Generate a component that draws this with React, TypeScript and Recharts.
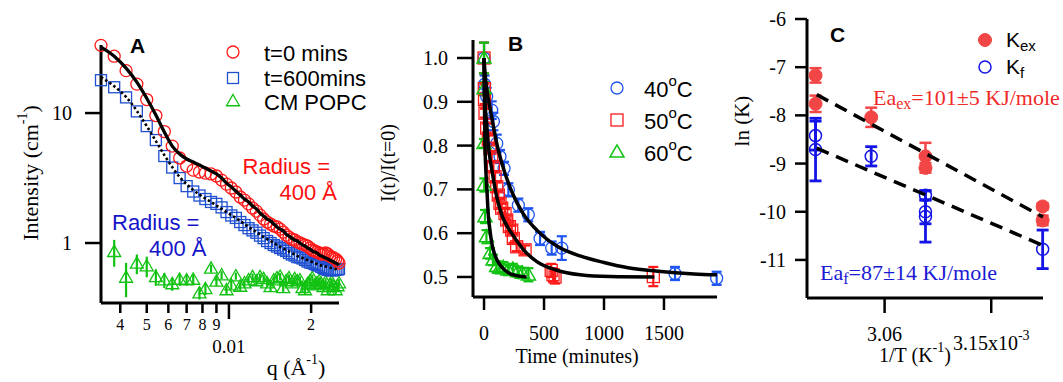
import React from 'react';
import { ScatterChart, Scatter, XAxis, YAxis, ErrorBar } from 'recharts';

const W = 1063;
const H = 382;
const SERIF = '"Liberation Serif", "Times New Roman", serif';
const SANS = '"Liberation Sans", Arial, sans-serif';

// ---------------- Panel A : SANS intensity vs q ----------------
const qGrid = [0.0034, 0.0038, 0.0042, 0.0046, 0.005, 0.0054, 0.0058, 0.0062, 0.0066, 0.007, 0.0074, 0.0078, 0.0082, 0.0086, 0.009, 0.0094, 0.0098, 0.0102, 0.0106, 0.011, 0.0114, 0.0118, 0.0122, 0.0126, 0.013, 0.0134, 0.0138, 0.0142, 0.0146, 0.015, 0.0154, 0.0158, 0.0162, 0.0166, 0.017, 0.0174, 0.0178, 0.0182, 0.0186, 0.019, 0.0194, 0.0198, 0.0202, 0.0206, 0.021, 0.0214, 0.0218, 0.0222, 0.0226, 0.023, 0.0234, 0.0238, 0.0242, 0.0246, 0.025, 0.0253];
const redI = [33.2, 27.4, 21.2, 16.7, 12.7, 9.57, 7.21, 5.57, 4.51, 3.91, 3.64, 3.52, 3.45, 3.4, 3.28, 3.05, 2.84, 2.65, 2.47, 2.26, 2.14, 2.0, 1.86, 1.76, 1.64, 1.53, 1.45, 1.4, 1.35, 1.33, 1.28, 1.215, 1.15, 1.11, 1.07, 1.055, 1.02, 1.0, 0.982, 0.965, 0.948, 0.915, 0.884, 0.868, 0.853, 0.838, 0.823, 0.823, 0.838, 0.823, 0.794, 0.78, 0.767, 0.753, 0.727, 0.702];
const redFit = [32.2, 27.4, 22.2, 17.3, 13.0, 9.65, 7.14, 5.57, 4.84, 4.43, 4.2, 3.98, 3.78, 3.58, 3.4, 3.16, 2.89, 2.7, 2.51, 2.34, 2.18, 2.07, 1.93, 1.83, 1.7, 1.61, 1.53, 1.48, 1.4, 1.33, 1.28, 1.24, 1.17, 1.13, 1.09, 1.055, 1.036, 1.0, 0.965, 0.948, 0.915, 0.899, 0.868, 0.853, 0.838, 0.809, 0.794, 0.78, 0.767, 0.753, 0.74, 0.727, 0.714, 0.702, 0.689, 0.677];
const blueI = [17.9, 15.8, 13.2, 10.3, 7.94, 6.2, 4.67, 3.81, 3.16, 2.74, 2.49, 2.32, 2.18, 2.07, 2.0, 1.88, 1.73, 1.63, 1.56, 1.45, 1.375, 1.3, 1.25, 1.2, 1.14, 1.09, 1.036, 1.0, 0.965, 0.94, 0.915, 0.891, 0.868, 0.838, 0.816, 0.801, 0.78, 0.774, 0.76, 0.74, 0.721, 0.708, 0.702, 0.689, 0.677, 0.671, 0.654, 0.642, 0.631, 0.62, 0.62, 0.614, 0.62, 0.625, 0.625, 0.631];
const blueFit = [18.9, 16.1, 13.3, 10.4, 7.94, 6.09, 4.75, 3.84, 3.22, 2.84, 2.56, 2.36, 2.2, 2.07, 1.94, 1.83, 1.73, 1.64, 1.56, 1.48, 1.4, 1.33, 1.27, 1.215, 1.16, 1.11, 1.07, 1.036, 1.0, 0.965, 0.932, 0.907, 0.884, 0.86, 0.838, 0.816, 0.794, 0.78, 0.767, 0.753, 0.74, 0.727, 0.714, 0.702, 0.689, 0.677, 0.671, 0.665, 0.66, 0.654, 0.648, 0.642, 0.637, 0.631, 0.631, 0.631];
// CM POPC starts at the second q value
const greenI = [0.857, 0.543, 0.696, 0.665, 0.548, 0.519, 0.484, 0.524, 0.519, 0.524, 0.412, 0.443, 0.637, 0.506, 0.567, 0.435, 0.475, 0.557, 0.463, 0.492, 0.519, 0.548, 0.51, 0.548, 0.529, 0.492, 0.459, 0.519, 0.538, 0.552, 0.451, 0.51, 0.538, 0.492, 0.529, 0.51, 0.519, 0.451, 0.435, 0.484, 0.51, 0.538, 0.475, 0.492, 0.51, 0.484, 0.459, 0.501, 0.435, 0.475, 0.501, 0.459, 0.435, 0.467, 0.492];
const greenErr = [0.2, 0.16, 0.12, 0.12, 0.08, 0.068, 0.055, 0.055, 0.05, 0.05, 0.045, 0.045, 0.045, 0.04, 0.04, 0.035, 0.035, 0.035, 0.035, 0.035, 0.035, 0.035, 0.035, 0.035, 0.035, 0.035, 0.035, 0.035, 0.035, 0.035, 0.035, 0.035, 0.035, 0.035, 0.035, 0.035, 0.035, 0.035, 0.035, 0.035, 0.035, 0.035, 0.035, 0.035, 0.035, 0.035, 0.035, 0.035, 0.035, 0.035, 0.035, 0.035, 0.035, 0.035, 0.035];
const aXTicks = [0.004, 0.005, 0.006, 0.007, 0.008, 0.009, 0.01, 0.02];
const aXTickLabels = ['4', '5', '6', '7', '8', '9', '0.01', '2'];
const aXTickMajor = [false, false, false, false, false, false, true, false];
const aYTicks = [1, 10];
const aYTickLabels = ['1', '10'];

// ---------------- Panel B : normalised intensity vs time ----------------
const b40T = [0, 5, 22, 64, 78, 106, 133, 167, 203, 286, 369, 467, 564, 648, 1592, 1939];
const b40V = [1.0, 0.94, 0.912, 0.881, 0.855, 0.805, 0.775, 0.748, 0.699, 0.664, 0.642, 0.588, 0.566, 0.566, 0.508, 0.497];
const b40E = [0.035, 0.02, 0.02, 0.02, 0.02, 0.02, 0.015, 0.015, 0.015, 0.015, 0.015, 0.015, 0.015, 0.027, 0.015, 0.015];
const b50T = [0, 2, 4, 8, 22, 36, 50, 64, 78, 92, 106, 119, 133, 147, 175, 189, 211, 231, 244, 272, 342, 560, 575, 592, 1411];
const b50V = [1.0, 0.93, 0.905, 0.874, 0.84, 0.813, 0.794, 0.775, 0.752, 0.729, 0.706, 0.687, 0.668, 0.657, 0.645, 0.63, 0.615, 0.607, 0.588, 0.569, 0.562, 0.515, 0.505, 0.5, 0.501];
const b50E = [0.035, 0.01, 0.01, 0.01, 0.01, 0.01, 0.01, 0.01, 0.01, 0.01, 0.01, 0.01, 0.01, 0.01, 0.01, 0.01, 0.01, 0.01, 0.01, 0.01, 0.01, 0.015, 0.015, 0.015, 0.022];
const b60T = [0, 0, 0, 2, 8, 20, 50, 75, 105, 130, 160, 200, 240, 280, 320, 370];
const b60V = [1.0, 0.93, 0.805, 0.71, 0.638, 0.592, 0.554, 0.539, 0.524, 0.52, 0.522, 0.516, 0.518, 0.512, 0.509, 0.505];
const b60E = [0.035, 0.015, 0.01, 0.015, 0.015, 0.015, 0.012, 0.012, 0.012, 0.012, 0.012, 0.012, 0.012, 0.012, 0.012, 0.015];
const fit40T = [0, 10, 22, 40, 64, 106, 165, 231, 330, 440, 610, 800, 1000, 1200, 1450, 1750, 1942];
const fit40V = [1.0, 0.96, 0.93, 0.9, 0.865, 0.805, 0.745, 0.695, 0.643, 0.607, 0.57, 0.548, 0.533, 0.521, 0.513, 0.507, 0.505];
const fit50T = [0, 5, 10, 22, 36, 50, 65, 100, 150, 230, 330, 440, 600, 800, 1050, 1420];
const fit50V = [1.0, 0.92, 0.89, 0.85, 0.8, 0.77, 0.745, 0.69, 0.64, 0.6, 0.562, 0.535, 0.516, 0.505, 0.501, 0.5];
const fit60T = [0, 3, 8, 14, 22, 36, 50, 64, 85, 106, 150, 200, 270, 355];
const fit60V = [1.0, 0.91, 0.8, 0.75, 0.71, 0.64, 0.605, 0.578, 0.555, 0.54, 0.522, 0.51, 0.503, 0.5];
const bXTicks = [0, 500, 1000, 1500];
const bXTickLabels = ['0', '500', '1000', '1500'];
const bYTicks = [0.5, 0.6, 0.7, 0.8, 0.9, 1.0];
const bYTickLabels = ['0.5', '0.6', '0.7', '0.8', '0.9', '1.0'];

// ---------------- Panel C : Arrhenius plot ----------------
const kexX = [3.0017, 3.0017, 3.0487, 3.0945, 3.0945, 3.1934, 3.1934];
const kexY = [-7.17, -7.76, -8.04, -8.85, -9.09, -9.89, -10.18];
const kexE = [0.15, 0.17, 0.2, 0.28, 0.1, 0.07, 0.1];
const kfX = [3.0017, 3.0017, 3.0487, 3.0945, 3.0945, 3.0945, 3.1934];
const kfY = [-8.42, -8.71, -8.85, -9.66, -10.0, -10.1, -10.78];
const kfE = [0.3, 0.65, 0.2, 0.1, 0.25, 0.53, 0.4];
const fitCX = [3.0027, 3.1937];
const kexFitY = [-7.57, -10.11];
const kfFitY = [-8.68, -10.7];
const cXTicks = [3.06, 3.15];
const cYTicks = [-6, -7, -8, -9, -10, -11];
const cYTickLabels = ['-6', '-7', '-8', '-9', '-10', '-11'];

// ---------------- colours ----------------
const A_RED = '#ff1a1a';
const A_BLUE = '#2050d0';
const A_GREEN = '#12c212';
const B_BLUE = '#1f55f0';
const C_RED = '#f24646';
const C_BLUE = '#1414e6';

// ---------------- data tables ----------------
const aRedPts = qGrid.map((x, i) => ({ x, y: redI[i] }));
const aRedFitPts = qGrid.map((x, i) => ({ x, y: redFit[i] }));
const aBluePts = qGrid.map((x, i) => ({ x, y: blueI[i] }));
const aBlueFitPts = qGrid.map((x, i) => ({ x, y: blueFit[i] }));
const aGreenPts = greenI.map((y, i) => ({ x: qGrid[i + 1], y, e: greenErr[i] }));

const b40Pts = b40T.map((x, i) => ({ x, y: b40V[i], e: b40E[i] }));
const b50Pts = b50T.map((x, i) => ({ x, y: b50V[i], e: b50E[i] }));
const b60Pts = b60T.map((x, i) => ({ x, y: b60V[i], e: b60E[i] }));
const fit40Pts = fit40T.map((x, i) => ({ x, y: fit40V[i] }));
const fit50Pts = fit50T.map((x, i) => ({ x, y: fit50V[i] }));
const fit60Pts = fit60T.map((x, i) => ({ x, y: fit60V[i] }));

const kexPts = kexX.map((x, i) => ({ x, y: kexY[i], e: kexE[i] }));
const kfPts = kfX.map((x, i) => ({ x, y: kfY[i], e: kfE[i] }));
const kexFitPts = fitCX.map((x, i) => ({ x, y: kexFitY[i] }));
const kfFitPts = fitCX.map((x, i) => ({ x, y: kfFitY[i] }));

// ---------------- marker shapes ----------------
const circleShape = (stroke: string, r: number, sw: number, fill = 'none') => (p: any) =>
  p.cx == null ? <g /> : <circle cx={p.cx} cy={p.cy} r={r} fill={fill} stroke={stroke} strokeWidth={sw} />;
const squareShape = (stroke: string, s: number, sw: number) => (p: any) =>
  p.cx == null ? <g /> : <rect x={p.cx - s / 2} y={p.cy - s / 2} width={s} height={s} fill="none" stroke={stroke} strokeWidth={sw} />;
const triPoints = (cx: number, cy: number, s: number) => {
  const h = s * 0.87;
  return `${cx},${cy - h * 0.58} ${cx - s / 2},${cy + h * 0.42} ${cx + s / 2},${cy + h * 0.42}`;
};
const triShape = (stroke: string, s: number, sw: number) => (p: any) =>
  p.cx == null ? <g /> : <polygon points={triPoints(p.cx, p.cy, s)} fill="none" stroke={stroke} strokeWidth={sw} />;
const noShape = () => <g />;

const axisStyle = { stroke: '#000', strokeWidth: 3 };

const idx = (arr: number[], v: number) => {
  let best = 0;
  for (let i = 0; i < arr.length; i++) if (Math.abs(arr[i] - v) < Math.abs(arr[best] - v)) best = i;
  return best;
};

// ---------------- tick renderers ----------------
const TickAX = (p: any) => {
  const i = idx(aXTicks, p.payload.value);
  const major = aXTickMajor[i];
  return (
    <g>
      <line x1={p.x} x2={p.x} y1={p.y} y2={p.y + (major ? 16 : 10)} stroke="#000" strokeWidth={2.5} />
      <text x={p.x} y={p.y + (major ? 43 : 21)} textAnchor="middle" dominantBaseline="central" fontFamily={SERIF} fontSize={major ? 19 : 16} fill="#000">
        {aXTickLabels[i]}
      </text>
    </g>
  );
};
const TickAY = (p: any) => {
  const i = idx(aYTicks, p.payload.value);
  return (
    <g>
      <line x1={p.x - 16} x2={p.x} y1={p.y} y2={p.y} stroke="#000" strokeWidth={2.5} />
      <text x={p.x - 29} y={p.y} textAnchor="end" dominantBaseline="central" fontFamily={SERIF} fontSize={20} fill="#000">
        {aYTickLabels[i]}
      </text>
    </g>
  );
};
const TickBX = (p: any) => {
  const i = idx(bXTicks, p.payload.value);
  return (
    <g>
      <line x1={p.x} x2={p.x} y1={p.y} y2={p.y + 13} stroke="#000" strokeWidth={2.5} />
      <text x={p.x} y={p.y + 36} textAnchor="middle" dominantBaseline="central" fontFamily={SERIF} fontSize={20} fill="#000">
        {bXTickLabels[i]}
      </text>
    </g>
  );
};
const TickBY = (p: any) => {
  const i = idx(bYTicks, p.payload.value);
  return (
    <g>
      <line x1={p.x - 16} x2={p.x} y1={p.y} y2={p.y} stroke="#000" strokeWidth={2.5} />
      <text x={p.x - 25} y={p.y} textAnchor="end" dominantBaseline="central" fontFamily={SERIF} fontSize={20} fill="#000">
        {bYTickLabels[i]}
      </text>
    </g>
  );
};
const TickCX = (p: any) => {
  const i = idx(cXTicks, p.payload.value);
  return (
    <g>
      <line x1={p.x} x2={p.x} y1={p.y} y2={p.y + 15} stroke="#000" strokeWidth={2.5} />
      {i === 0 ? (
        <text x={p.x} y={p.y + 36} textAnchor="middle" dominantBaseline="central" fontFamily={SERIF} fontSize={20} fill="#000">
          3.06
        </text>
      ) : (
        <text x={p.x} y={p.y + 45} textAnchor="middle" dominantBaseline="central" fontFamily={SERIF} fontSize={20} fill="#000">
          3.15x10<tspan dy={-8} fontSize={14}>-3</tspan>
        </text>
      )}
    </g>
  );
};
const TickCY = (p: any) => {
  const i = idx(cYTicks, p.payload.value);
  return (
    <g>
      <line x1={p.x - 12} x2={p.x} y1={p.y} y2={p.y} stroke="#000" strokeWidth={2.5} />
      <text x={p.x - 21} y={p.y} textAnchor="end" dominantBaseline="central" fontFamily={SERIF} fontSize={20} fill="#000">
        {cYTickLabels[i]}
      </text>
    </g>
  );
};

const layer: React.CSSProperties = { position: 'absolute', left: 0, top: 0 };

export default function App() {
  return (
    <div style={{ position: 'absolute', left: 0, top: 0, width: W, height: H, background: '#fff' }}>
      {/* Panel A */}
      <div style={layer}>
        <ScatterChart width={W} height={H} margin={{ top: 45, right: W - 339, bottom: 0, left: 0 }}>
          <XAxis type="number" dataKey="x" scale="log" domain={[0.0034, 0.0253]} ticks={aXTicks} interval={0}
            tickSize={0} tickMargin={0} tickLine={false} axisLine={axisStyle} tick={TickAX} height={79} />
          <YAxis type="number" dataKey="y" scale="log" domain={[0.3455, 33.4]} ticks={aYTicks} interval={0}
            tickSize={0} tickMargin={0} tickLine={false} axisLine={axisStyle} tick={TickAY} width={101} />
          <Scatter data={aGreenPts} shape={triShape(A_GREEN, 13, 1.3)} isAnimationActive={false}>
            <ErrorBar dataKey="e" direction="y" width={0} strokeWidth={2.2} stroke={A_GREEN} />
          </Scatter>
          <Scatter data={aBluePts} shape={squareShape(A_BLUE, 11, 1.3)} isAnimationActive={false} />
          <Scatter data={aRedPts} shape={circleShape(A_RED, 6, 1.3)} isAnimationActive={false} />
          <Scatter data={aRedFitPts} shape={noShape} line={{ stroke: '#000', strokeWidth: 3.3 }} lineJointType="monotoneX" isAnimationActive={false} />
          <Scatter data={aBlueFitPts} shape={noShape} line={{ stroke: '#000', strokeWidth: 2.6, strokeDasharray: '2.5 2.5' }} lineJointType="monotoneX" isAnimationActive={false} />
        </ScatterChart>
      </div>

      {/* Panel B */}
      <div style={layer}>
        <ScatterChart width={W} height={H} margin={{ top: 40, right: W - 717, bottom: 0, left: 0 }}>
          <XAxis type="number" dataKey="x" domain={[-92, 1942]} ticks={bXTicks} interval={0}
            tickSize={0} tickMargin={0} tickLine={false} axisLine={axisStyle} tick={TickBX} height={85} />
          <YAxis type="number" dataKey="y" domain={[0.4543, 1.0411]} ticks={bYTicks} interval={0}
            tickSize={0} tickMargin={0} tickLine={false} axisLine={axisStyle} tick={TickBY} width={473} />
          <Scatter data={b40Pts} shape={circleShape(B_BLUE, 6, 1.3)} isAnimationActive={false}>
            <ErrorBar dataKey="e" direction="y" width={5} strokeWidth={2.2} stroke={B_BLUE} />
          </Scatter>
          <Scatter data={b50Pts} shape={squareShape(A_RED, 12, 1.3)} isAnimationActive={false}>
            <ErrorBar dataKey="e" direction="y" width={5} strokeWidth={2.2} stroke={A_RED} />
          </Scatter>
          <Scatter data={b60Pts} shape={triShape(A_GREEN, 14, 1.5)} isAnimationActive={false}>
            <ErrorBar dataKey="e" direction="y" width={5} strokeWidth={2.2} stroke={A_GREEN} />
          </Scatter>
          <Scatter data={fit40Pts} shape={noShape} line={{ stroke: '#000', strokeWidth: 3.5 }} lineJointType="monotoneX" isAnimationActive={false} />
          <Scatter data={fit50Pts} shape={noShape} line={{ stroke: '#000', strokeWidth: 3.5 }} lineJointType="monotoneX" isAnimationActive={false} />
          <Scatter data={fit60Pts} shape={noShape} line={{ stroke: '#000', strokeWidth: 3.5 }} lineJointType="monotoneX" isAnimationActive={false} />
        </ScatterChart>
      </div>

      {/* Panel C */}
      <div style={layer}>
        <ScatterChart width={W} height={H} margin={{ top: 19, right: W - 1043, bottom: 0, left: 0 }}>
          <XAxis type="number" dataKey="x" domain={[2.9945, 3.1937]} ticks={cXTicks} interval={0}
            tickSize={0} tickMargin={0} tickLine={false} axisLine={axisStyle} tick={TickCX} height={84} />
          <YAxis type="number" dataKey="y" domain={[-11.79, -6]} ticks={cYTicks} interval={0}
            tickSize={0} tickMargin={0} tickLine={false} axisLine={axisStyle} tick={TickCY} width={807} />
          <Scatter data={kexPts} shape={circleShape(C_RED, 6.5, 1, C_RED)} isAnimationActive={false}>
            <ErrorBar dataKey="e" direction="y" width={6} strokeWidth={2.5} stroke={C_RED} />
          </Scatter>
          <Scatter data={kfPts} shape={circleShape(C_BLUE, 6, 1.5)} isAnimationActive={false}>
            <ErrorBar dataKey="e" direction="y" width={6} strokeWidth={2.8} stroke={C_BLUE} />
          </Scatter>
          <Scatter data={kexFitPts} shape={noShape} line={{ stroke: '#000', strokeWidth: 3.5, strokeDasharray: '13 8' }} isAnimationActive={false} />
          <Scatter data={kfFitPts} shape={noShape} line={{ stroke: '#000', strokeWidth: 3.5, strokeDasharray: '13 8' }} isAnimationActive={false} />
        </ScatterChart>
      </div>

      {/* Labels, legends, annotations */}
      <svg width={W} height={H} style={{ position: 'absolute', left: 0, top: 0, pointerEvents: 'none' }}>
        {/* Panel A */}
        <text x={130} y={45} fontFamily={SANS} fontWeight="bold" fontSize={21} dominantBaseline="central">A</text>
        <circle cx={233} cy={52} r={6} fill="none" stroke={A_RED} strokeWidth={1.3} />
        <rect x={227.5} y={72.5} width={11} height={11} fill="none" stroke={A_BLUE} strokeWidth={1.3} />
        <polygon points={triPoints(233, 101, 13)} fill="none" stroke={A_GREEN} strokeWidth={1.3} />
        <g fontFamily={SANS} fontSize={22} fill="#000" dominantBaseline="central">
          <text x={264} y={53}>t=0 mins</text>
          <text x={264} y={78}>t=600mins</text>
          <text x={264} y={102}>CM POPC</text>
        </g>
        <g fontFamily={SANS} fontSize={22} dominantBaseline="central">
          <text x={330} y={166} textAnchor="end" fill="#ff1010">Radius =</text>
          <text x={337} y={192} textAnchor="end" fill="#ff1010">400 Å</text>
          <text x={112} y={222} fill="#1414c8">Radius =</text>
          <text x={149} y={248} fill="#1414c8">400 Å</text>
        </g>
        <text x={30} y={173} transform="rotate(-90 30 173)" textAnchor="middle" dominantBaseline="central" fontFamily={SERIF} fontSize={22}>
          Intensity (cm<tspan dy={-8} fontSize={14}>-1</tspan><tspan dy={8}>)</tspan>
        </text>
        <text x={296} y={367} textAnchor="middle" dominantBaseline="central" fontFamily={SERIF} fontSize={22}>
          q (Å<tspan dy={-8} fontSize={14}>-1</tspan><tspan dy={8}>)</tspan>
        </text>

        {/* Panel B */}
        <text x={508} y={43} fontFamily={SANS} fontWeight="bold" fontSize={21} dominantBaseline="central">B</text>
        <circle cx={617} cy={88} r={6} fill="none" stroke={B_BLUE} strokeWidth={1.3} />
        <rect x={611} y={114} width={12} height={12} fill="none" stroke={A_RED} strokeWidth={1.3} />
        <polygon points={triPoints(617, 152, 14)} fill="none" stroke={A_GREEN} strokeWidth={1.5} />
        <g fontFamily={SANS} fontSize={22} fill="#000" dominantBaseline="central">
          <text x={644} y={89}>40<tspan dy={-9} fontSize={15}>o</tspan><tspan dy={9}>C</tspan></text>
          <text x={644} y={121}>50<tspan dy={-9} fontSize={15}>o</tspan><tspan dy={9}>C</tspan></text>
          <text x={644} y={153}>60<tspan dy={-9} fontSize={15}>o</tspan><tspan dy={9}>C</tspan></text>
        </g>
        <text x={388} y={163} transform="rotate(-90 388 163)" textAnchor="middle" dominantBaseline="central" fontFamily={SERIF} fontSize={20}>
          I(t)/I(t=0)
        </text>
        <text x={577} y={356} textAnchor="middle" dominantBaseline="central" fontFamily={SERIF} fontSize={20}>
          Time (minutes)
        </text>

        {/* Panel C */}
        <text x={830} y={34} fontFamily={SANS} fontWeight="bold" fontSize={21} dominantBaseline="central">C</text>
        <circle cx={985} cy={40} r={6.5} fill={C_RED} stroke={C_RED} strokeWidth={1} />
        <circle cx={985} cy={67} r={6} fill="none" stroke={C_BLUE} strokeWidth={1.5} />
        <g fontFamily={SANS} fontSize={21} fill="#000" dominantBaseline="central">
          <text x={1006} y={39}>K<tspan dy={6} fontSize={15}>ex</tspan></text>
          <text x={1006} y={66}>K<tspan dy={6} fontSize={15}>f</tspan></text>
        </g>
        <g fontFamily={SERIF} fontSize={22} dominantBaseline="central">
          <text x={873} y={97} fill="#f02a2a">Ea<tspan dy={6} fontSize={16}>ex</tspan><tspan dy={-6}>=101±5 KJ/mole</tspan></text>
          <text x={820} y={272} fill="#1a1ad2">Ea<tspan dy={6} fontSize={16}>f</tspan><tspan dy={-6}>=87±14 KJ/mole</tspan></text>
        </g>
        <text x={742} y={121} transform="rotate(-90 742 121)" textAnchor="middle" dominantBaseline="central" fontFamily={SERIF} fontSize={21}>
          ln (K)
        </text>
        <text x={915} y={355} textAnchor="middle" dominantBaseline="central" fontFamily={SERIF} fontSize={20}>
          1/T (K<tspan dy={-8} fontSize={14}>-1</tspan><tspan dy={8}>)</tspan>
        </text>
      </svg>
    </div>
  );
}
